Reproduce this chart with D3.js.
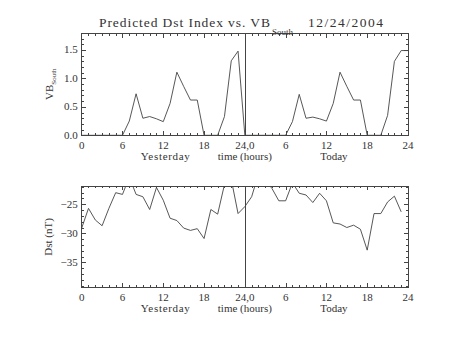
<!DOCTYPE html>
<html>
<head>
<meta charset="utf-8">
<script src="https://cdn.jsdelivr.net/npm/d3@7"></script>
<style>
  body { margin: 0; background: #fff; }
  svg { display: block; }
  text { font-family: "Liberation Serif", serif; fill: #333; }
</style>
</head>
<body>
<svg id="chart" width="453" height="340"></svg>
<script>
// hourly values, yesterday then today
const vbYesterday = [0, 0, 0, 0, 0, 0, 0, 0.25, 0.73, 0.30, 0.33, 0.29, 0.24, 0.56, 1.11, 0.86, 0.62, 0.62, 0, 0, 0, 0.33, 1.31, 1.48];
const vbToday = [0, 0, 0, 0, 0, 0, 0, 0.24, 0.72, 0.30, 0.32, 0.29, 0.25, 0.56, 1.11, 0.86, 0.62, 0.62, 0, 0, 0, 0.35, 1.30, 1.49, 1.49];
const dstYesterday = [-29.1, -25.7, -27.7, -28.7, -25.7, -23.0, -23.3, -20.3, -23.3, -23.7, -25.9, -22.1, -24.3, -27.4, -27.8, -29.1, -29.5, -29.2, -30.9, -25.9, -26.7, -21.6, -20.7, -26.6];
const dstToday = [-25.4, -23.7, -19.8, -20.8, -22.3, -24.4, -24.4, -21.3, -23.1, -23.4, -24.7, -23.1, -24.4, -28.2, -28.4, -29.0, -28.6, -29.3, -32.9, -26.6, -26.6, -24.6, -23.6, -26.3];

const hourTicks = [0, 6, 12, 18, 24, 30, 36, 42, 48];
const hourLabels = ["0", "6", "12", "18", "24,0", "6", "12", "18", "24"];
const vbTicks = [0, 0.5, 1.0, 1.5];
const dstTicks = [-35, -30, -25];

const svg = d3.select("#chart");
const ink = "#444";

const x = d3.scaleLinear().domain([0, 48]).range([81.7, 408]);

// join the two days into one 48-hour run
const toPoints = (yest, today) =>
  yest.map((v, i) => [i, v]).concat(today.map((v, i) => [24 + i, v]));

function panel(top, bottom, domain, yTicks, fmt, pts, id) {
  const y = d3.scaleLinear().domain(domain).range([bottom, top]);
  const g = svg.append("g");

  g.append("clipPath").attr("id", id)
    .append("rect")
    .attr("x", x(0)).attr("y", top)
    .attr("width", x(48) - x(0)).attr("height", bottom - top);

  // frame
  g.append("rect")
    .attr("x", x(0)).attr("y", top)
    .attr("width", x(48) - x(0)).attr("height", bottom - top)
    .attr("fill", "none").attr("stroke", ink).attr("shape-rendering", "crispEdges");

  // hour ticks, minor every hour, on both horizontal edges
  const ticks = g.append("g").attr("stroke", ink).attr("shape-rendering", "crispEdges");
  d3.range(1, 48).forEach((h) => {
    const len = h % 6 === 0 ? 4 : 2;
    const xx = Math.round(x(h)) + 0.5;
    ticks.append("line").attr("x1", xx).attr("x2", xx).attr("y1", bottom).attr("y2", bottom - len);
    ticks.append("line").attr("x1", xx).attr("x2", xx).attr("y1", top).attr("y2", top + len);
  });

  // value ticks, five minors per major
  const step = yTicks[1] - yTicks[0];
  const minor = step / 5;
  const lo = Math.ceil(domain[0] / minor - 1e-6), hi = Math.floor(domain[1] / minor + 1e-6);
  d3.range(lo, hi + 1).forEach((k) => {
    const v = k * minor;
    const major = yTicks.some((t) => Math.abs(t - v) < 1e-6);
    const len = major ? 4 : 2;
    const yy = Math.round(y(v)) + 0.5;
    ticks.append("line").attr("x1", x(0)).attr("x2", x(0) + len).attr("y1", yy).attr("y2", yy);
    ticks.append("line").attr("x1", x(48)).attr("x2", x(48) - len).attr("y1", yy).attr("y2", yy);
  });

  g.selectAll(".ylab").data(yTicks).join("text")
    .attr("x", x(0) - 4).attr("y", (d) => y(d) + 3.5)
    .attr("text-anchor", "end").attr("font-size", 11)
    .text(fmt);

  g.selectAll(".xlab").data(hourTicks).join("text")
    .attr("x", (d) => x(d)).attr("y", bottom + 14)
    .attr("text-anchor", "middle").attr("font-size", 11)
    .text((d, i) => hourLabels[i]);

  g.append("text").attr("x", x(12.3)).attr("y", bottom + 24.5)
    .attr("text-anchor", "middle").attr("font-size", 11)
    .attr("textLength", 49).attr("lengthAdjust", "spacing").text("Yesterday");
  g.append("text").attr("x", x(24)).attr("y", bottom + 24.5)
    .attr("text-anchor", "middle").attr("font-size", 11).text("time (hours)");
  g.append("text").attr("x", x(37.1)).attr("y", bottom + 24.5)
    .attr("text-anchor", "middle").attr("font-size", 11).text("Today");

  // midnight divider
  g.append("line")
    .attr("x1", Math.round(x(24)) + 0.5).attr("x2", Math.round(x(24)) + 0.5)
    .attr("y1", top).attr("y2", bottom)
    .attr("stroke", ink).attr("shape-rendering", "crispEdges");

  g.append("path")
    .datum(pts)
    .attr("clip-path", `url(#${id})`)
    .attr("fill", "none").attr("stroke", ink).attr("stroke-width", 0.9)
    .attr("d", d3.line().x((d) => x(d[0])).y((d) => y(d[1])));

  return y;
}

panel(33.5, 135.3, [0, 1.79], vbTicks, d3.format(".1f"), toPoints(vbYesterday, vbToday), "clipVB");
panel(186, 287.3, [-39.3, -21.85], dstTicks, (d) => String(d).replace("-", "\u2212"), toPoints(dstYesterday, dstToday), "clipDst");

// title
svg.append("text").attr("x", 99).attr("y", 27.3).attr("font-size", 13.5)
  .attr("textLength", 171).attr("lengthAdjust", "spacing")
  .text("Predicted Dst Index vs. VB");
svg.append("text").attr("x", 272).attr("y", 34.5).attr("font-size", 9).text("South");
svg.append("text").attr("x", 308).attr("y", 27.3).attr("font-size", 13.5)
  .attr("textLength", 75).attr("lengthAdjust", "spacing")
  .text("12/24/2004");

// axis titles
const vbLabel = svg.append("text")
  .attr("transform", "translate(53,100) rotate(-90)")
  .attr("font-size", 11);
vbLabel.append("tspan").text("VB");
vbLabel.append("tspan").attr("dy", 3).attr("font-size", 7).text("South");

svg.append("text")
  .attr("transform", "translate(52,237) rotate(-90)")
  .attr("text-anchor", "middle").attr("font-size", 11)
  .text("Dst (nT)");
</script>
</body>
</html>
